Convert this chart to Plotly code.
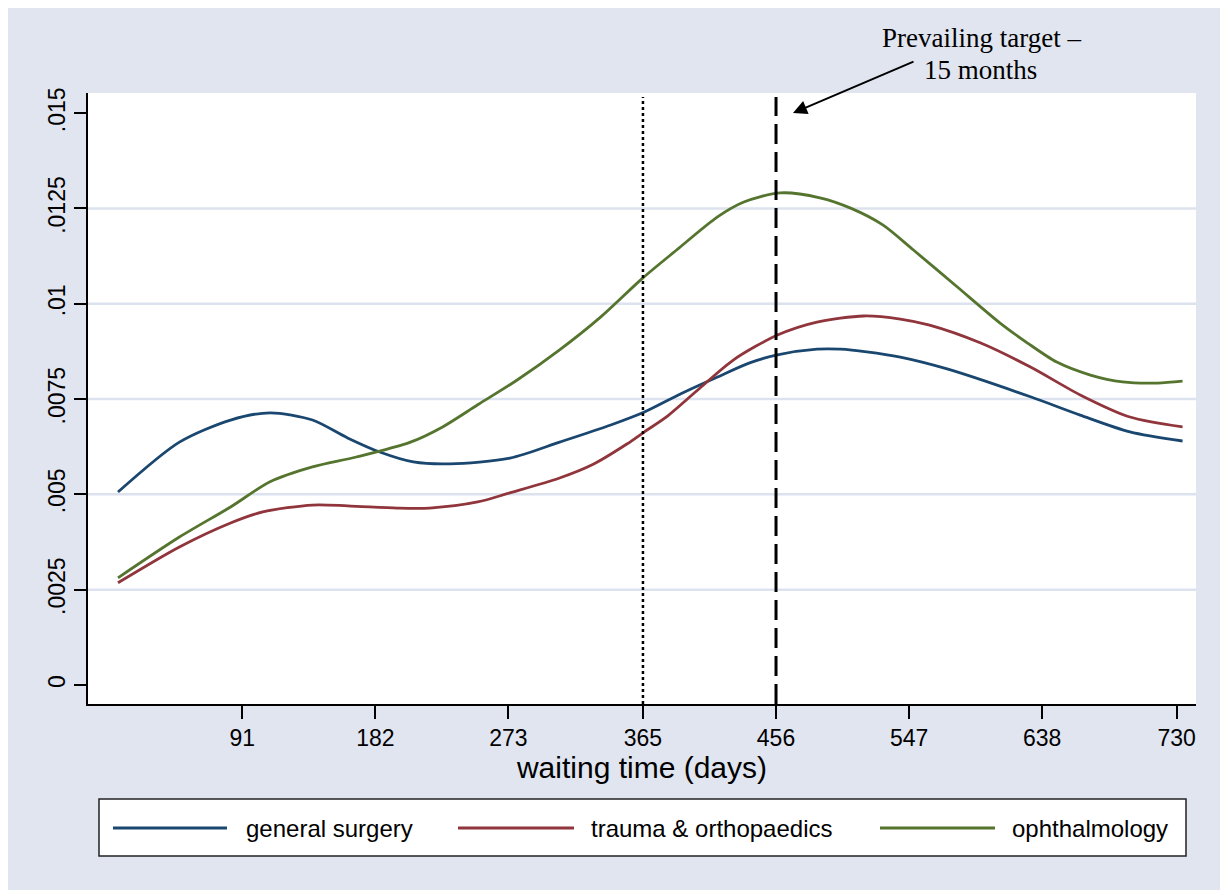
import plotly.graph_objects as go

# --- data (days, density) ---
gs_days = [6, 48, 83, 110, 139, 163, 185, 208, 233, 274, 308, 343, 366, 392, 416,
           438, 457, 484, 500, 518, 541, 573, 630, 664, 698, 734]
gs_dens = [.00506, .00637, .00695, .00714, .00695, .00648, .00611, .00585, .00580,
           .00595, .00637, .00682, .00716, .00766, .00808, .00845, .00866, .00881,
           .00881, .00874, .00860, .00829, .00756, .00708, .00664, .00640]

to_days = [6, 48, 83, 105, 139, 163, 197, 219, 252, 274, 308, 331, 354, 366, 382,
           404, 427, 457, 484, 516, 541, 561, 596, 630, 664, 698, 734]
to_dens = [.00268, .00362, .00425, .00454, .00472, .00470, .00464, .00464, .00480,
           .00504, .00543, .00579, .00632, .00664, .00706, .00779, .00853, .00918,
           .00952, .00968, .00960, .00944, .00897, .00834, .00761, .00703, .00677]

op_days = [6, 48, 83, 110, 139, 169, 206, 228, 252, 279, 308, 336, 365, 388, 416,
           434, 459, 486, 507, 529, 550, 580, 609, 628, 648, 671, 693, 717, 734]
op_dens = [.00281, .00388, .00467, .00533, .00572, .00598, .00637, .00677, .00735,
           .00800, .00879, .00965, .01068, .01141, .01228, .01267, .01291, .01278,
           .01251, .01207, .01141, .01044, .00950, .00897, .00847, .00813, .00795,
           .00792, .00797]

series_names = ["general surgery", "trauma & orthopaedics", "ophthalmology"]
series_colors = ["#1A476F", "#90353B", "#55752F"]

x_ticks = [91, 182, 273, 365, 456, 547, 638, 730]
y_ticks = [0, .0025, .005, .0075, .01, .0125, .015]
y_ticktext = ["0", ".0025", ".005", ".0075", ".01", ".0125", ".015"]
grid_vals = [.0025, .005, .0075, .01, .0125]

one_year = 365
target_days = 456

BG = "#E0E5F0"
FONT = "Liberation Sans, Arial, sans-serif"

# the page puts the figure 8px in from the top-left corner
OFF = 8
W, H = 1228 - OFF, 890 - OFF
# plot area in screen pixels (used for the hand-drawn legend / annotation)
PL, PR, PT, PB = 88, 1196, 93, 704


def px_x(px):
    return (px - PL) / (PR - PL)


def px_y(py):
    return (PB - py) / (PB - PT)


fig = go.Figure()

for days, dens, name, color in zip(
    [gs_days, to_days, op_days], [gs_dens, to_dens, op_dens], series_names, series_colors
):
    fig.add_trace(go.Scatter(
        x=days, y=dens, mode="lines", name=name, showlegend=False,
        line=dict(color=color, width=2.8, shape="spline", smoothing=0.8),
    ))

shapes = []
# horizontal grid lines (Stata leaves out the outer ones)
for v in grid_vals:
    shapes.append(dict(type="line", xref="paper", yref="y", x0=0, x1=1, y0=v, y1=v,
                       line=dict(color="#DCE2EE", width=2.5), layer="below"))

# reference lines at 12 months and 15 months
shapes.append(dict(type="line", xref="x", yref="paper", x0=one_year, x1=one_year,
                   y0=0, y1=px_y(97), line=dict(color="black", width=2.5, dash="3px,3px")))
shapes.append(dict(type="line", xref="x", yref="paper", x0=target_days, x1=target_days,
                   y0=0, y1=px_y(97), line=dict(color="black", width=3, dash="20px,8px")))

# legend box
shapes.append(dict(type="rect", xref="paper", yref="paper",
                   x0=px_x(99), x1=px_x(1186), y0=px_y(856), y1=px_y(799),
                   fillcolor="white", line=dict(color="#222222", width=1.5)))

legend_pos = [(113, 227, 244), (458, 574, 589), (880, 995, 1010)]
annotations = []
for (lx0, lx1, tx), name, color in zip(legend_pos, series_names, series_colors):
    shapes.append(dict(type="line", xref="paper", yref="paper",
                       x0=px_x(lx0), x1=px_x(lx1), y0=px_y(828), y1=px_y(828),
                       line=dict(color=color, width=2.8)))
    annotations.append(dict(xref="paper", yref="paper", x=px_x(tx), y=px_y(828),
                            text=name, showarrow=False, xanchor="left", yanchor="middle",
                            font=dict(family=FONT, size=24, color="black")))

# target label with arrow
serif = dict(family="Liberation Serif, Times New Roman, serif", size=27, color="black")
annotations.append(dict(xref="paper", yref="paper", x=px_x(981), y=px_y(38),
                        text="Prevailing target –", showarrow=False,
                        xanchor="center", yanchor="middle", font=serif))
annotations.append(dict(xref="paper", yref="paper", x=px_x(980), y=px_y(70),
                        text="15 months", showarrow=False,
                        xanchor="center", yanchor="middle", font=serif))
annotations.append(dict(xref="paper", yref="paper", x=px_x(793), y=px_y(113),
                        text="", showarrow=True, ax=122, ay=-52,
                        arrowhead=2, arrowsize=1.4, arrowwidth=2, arrowcolor="black"))

fig.update_layout(
    width=W, height=H, autosize=False,
    margin=dict(l=PL - OFF, r=W - (PR - OFF), t=PT - OFF, b=H - (PB - OFF)),
    paper_bgcolor=BG, plot_bgcolor="white",
    font=dict(family=FONT, color="black"),
    shapes=shapes, annotations=annotations,
    showlegend=False,
)

fig.update_xaxes(
    range=[-14.5, 743.2], tickvals=x_ticks, ticks="outside", ticklen=13, tickwidth=1.5,
    tickcolor="black", showline=True, linecolor="black", linewidth=1.5,
    showgrid=False, zeroline=False, tickfont=dict(size=23),
    title=dict(text="waiting time (days)", font=dict(size=30), standoff=2),
)
fig.update_yaxes(
    range=[-0.0005, 0.01553], tickvals=y_ticks, ticktext=y_ticktext, tickangle=-90,
    ticks="outside", ticklen=12, tickwidth=1.5, tickcolor="black",
    showline=True, linecolor="black", linewidth=1.5,
    showgrid=False, zeroline=False, tickfont=dict(size=23),
)

fig.write_html("out.html")
